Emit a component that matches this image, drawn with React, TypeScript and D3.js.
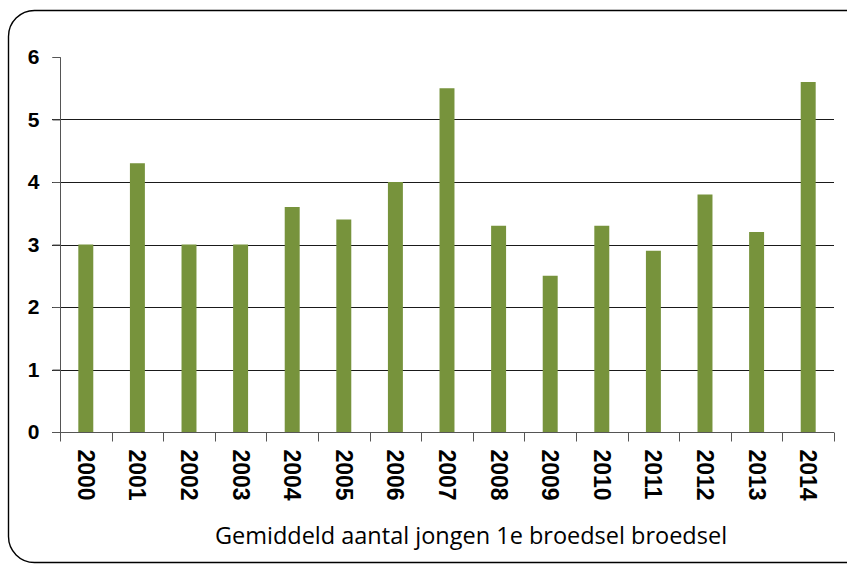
import React, { useEffect, useRef } from 'react';
import * as d3 from 'd3';

const years = ['2000', '2001', '2002', '2003', '2004', '2005', '2006', '2007', '2008', '2009', '2010', '2011', '2012', '2013', '2014'];
const youngPerNest = [3.0, 4.3, 3.0, 3.0, 3.6, 3.4, 4.0, 5.5, 3.3, 2.5, 3.3, 2.9, 3.8, 3.2, 5.6];
const yTicks = [0, 1, 2, 3, 4, 5, 6];
const axisTitle = 'Gemiddeld aantal jongen 1e broedsel broedsel';

export default function App() {
  const svgRef = useRef<SVGSVGElement>(null);

  useEffect(() => {
    if (!svgRef.current) return;
    const width = 847;
    const height = 566;
    const plot = { left: 60, right: 834, top: 57, bottom: 432 };

    const svg = d3.select(svgRef.current);
    svg.selectAll('*').remove();
    svg.attr('width', width).attr('height', height).attr('viewBox', `0 0 ${width} ${height}`);

    // outer rounded frame (runs off the right edge like the original)
    svg.append('rect')
      .attr('x', 8.5).attr('y', 10.5)
      .attr('width', 868).attr('height', 552)
      .attr('rx', 26)
      .attr('fill', 'white')
      .attr('stroke', '#000')
      .attr('stroke-width', 1.4);

    const x = d3.scaleBand().domain(years).range([plot.left, plot.right]).paddingInner(0.71).paddingOuter(0.355);
    const y = d3.scaleLinear().domain([0, 6]).range([plot.bottom, plot.top]);

    // gridlines (none at the top value)
    svg.append('g')
      .selectAll('line')
      .data(yTicks.filter(t => t > 0 && t < 6))
      .join('line')
      .attr('x1', plot.left - 8).attr('x2', plot.right)
      .attr('y1', d => Math.round(y(d)) + 0.5).attr('y2', d => Math.round(y(d)) + 0.5)
      .attr('stroke', '#1a1a1a').attr('stroke-width', 1);

    // bars
    svg.append('g')
      .selectAll('rect')
      .data(years)
      .join('rect')
      .attr('x', d => x(d)!)
      .attr('width', x.bandwidth())
      .attr('y', (d, i) => y(youngPerNest[i]))
      .attr('height', (d, i) => y(0) - y(youngPerNest[i]))
      .attr('fill', '#77933C');

    // y axis
    const yAxis = svg.append('g').attr('transform', `translate(${plot.left + 0.5},0)`)
      .call(d3.axisLeft(y).tickValues(yTicks).tickSize(8).tickPadding(13).tickFormat(d3.format('d')));
    yAxis.select('.domain').attr('stroke', '#555').attr('d', `M-8,${plot.top + 0.5}H0V${plot.bottom}`);
    yAxis.selectAll('.tick line').attr('stroke', '#555');
    yAxis.selectAll('text')
      .attr('font-family', 'Liberation Sans, Arial, sans-serif')
      .attr('font-weight', 'bold')
      .attr('font-size', 21)
      .attr('fill', '#000');

    // x axis
    const band = (plot.right - plot.left) / years.length;
    const xAxisG = svg.append('g').attr('transform', `translate(0,${plot.bottom + 0.5})`);
    xAxisG.append('line').attr('x1', plot.left - 8).attr('x2', plot.right).attr('stroke', '#555');
    xAxisG.selectAll('line.tk')
      .data(d3.range(years.length + 1))
      .join('line')
      .attr('class', 'tk')
      .attr('x1', i => Math.round(plot.left + i * band) + 0.5)
      .attr('x2', i => Math.round(plot.left + i * band) + 0.5)
      .attr('y1', 0).attr('y2', 9)
      .attr('stroke', '#555');
    xAxisG.selectAll('text')
      .data(years)
      .join('text')
      .attr('transform', d => `translate(${x(d)! + x.bandwidth() / 2},17) rotate(90)`)
      .attr('dy', '0.35em')
      .attr('font-family', 'Liberation Sans, Arial, sans-serif')
      .attr('font-weight', 'bold')
      .attr('font-size', 23)
      .attr('fill', '#000')
      .text(d => d);

    // axis title
    svg.append('text')
      .attr('x', 471).attr('y', 544)
      .attr('text-anchor', 'middle')
      .attr('font-family', 'Open Sans, sans-serif')
      .attr('font-size', 23.5)
      .attr('fill', '#000')
      .text(axisTitle);
  }, []);

  return (
    <svg ref={svgRef} style={{ position: 'absolute', left: 0, top: 0, display: 'block' }}></svg>
  );
}
